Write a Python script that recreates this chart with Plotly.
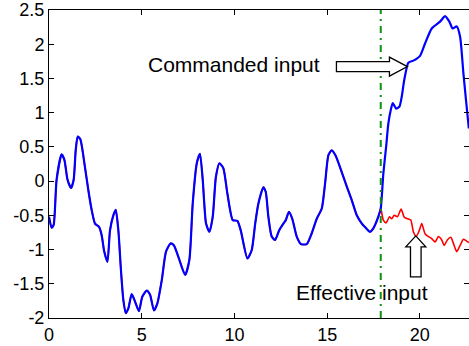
import numpy as np
import plotly.graph_objects as go

# Commanded input (blue), sampled along time
t_cmd = [0.00, 0.14, 0.25, 0.41, 0.68, 0.83, 1.00, 1.19, 1.33, 1.44, 1.55, 1.69,
         1.91, 2.12, 2.30, 2.48, 2.70, 2.84, 2.98, 3.15, 3.29, 3.47, 3.60, 3.74,
         3.88, 4.01, 4.14, 4.28, 4.46, 4.64, 4.85, 5.03, 5.27, 5.45, 5.66, 5.84,
         6.08, 6.31, 6.56, 6.74, 6.98, 7.34, 7.57, 7.75, 7.97, 8.14, 8.29, 8.47,
         8.65, 8.83, 9.00, 9.19, 9.40, 9.62, 9.91, 10.16, 10.34, 10.70, 10.93,
         11.12, 11.29, 11.56, 11.69, 11.83, 12.01, 12.19, 12.41, 12.64, 12.77,
         12.94, 13.12, 13.36, 13.59, 13.90, 14.13, 14.44, 14.71, 14.89, 15.07,
         15.25, 15.46, 15.75, 16.06, 16.33, 16.60, 16.87, 17.04, 17.31, 17.49,
         17.76, 17.89, 18.03, 18.18, 18.30, 18.43, 18.54, 18.72, 18.90, 19.02,
         19.16, 19.38, 19.65, 20.01, 20.28, 20.64, 21.09, 21.36, 21.59, 21.77,
         21.99, 22.17, 22.35, 22.49, 22.64]
u_cmd = [-0.52, -0.68, -0.64, 0.02, 0.39, 0.31, 0.02, -0.10, 0.02, 0.45, 0.65, 0.61,
         0.26, -0.13, -0.42, -0.62, -0.67, -0.79, -1.03, -1.18, -0.72, -0.50, -0.42, -0.72,
         -1.30, -1.74, -1.93, -1.86, -1.65, -1.76, -1.90, -1.69, -1.60, -1.66, -1.89, -1.79,
         -1.45, -1.03, -0.91, -0.94, -1.11, -1.37, -1.15, -0.33, 0.26, 0.40, 0.02, -0.62,
         -0.74, -0.52, 0.06, 0.26, 0.19, -0.18, -0.57, -0.58, -0.72, -1.13, -1.01,
         -0.62, -0.33, -0.09, -0.16, -0.52, -0.81, -0.86, -0.72, -0.62, -0.57,
         -0.45, -0.55, -0.81, -0.92, -0.92, -0.79, -0.55, -0.40, -0.03, 0.38,
         0.45, 0.37, 0.16, -0.08, -0.28, -0.50, -0.62, -0.67, -0.74, -0.69,
         -0.52, -0.40, 0.11, 0.50, 0.84, 1.04, 1.14, 1.06, 1.09, 1.23,
         1.48, 1.73, 1.76, 1.83, 2.01, 2.23, 2.33, 2.41, 2.33, 2.23,
         2.26, 2.11, 1.57, 1.18, 0.77]

# Saturation switches on here; effective input departs from the command
t_switch = 17.89

# Effective input (red) after the switch
t_eff_tail = [18.03, 18.18, 18.36, 18.48, 18.62, 18.79, 18.99, 19.16, 19.35, 19.51,
              19.65, 19.80, 19.97, 20.10, 20.28, 20.46, 20.64, 20.82, 21.00, 21.18,
              21.31, 21.48, 21.67, 21.81, 21.99, 22.17, 22.35, 22.49, 22.64]
u_eff_tail = [-0.57, -0.61, -0.52, -0.55, -0.50, -0.52, -0.41, -0.53, -0.55, -0.57,
              -0.74, -0.81, -0.72, -0.62, -0.77, -0.81, -0.84, -0.89, -0.81, -0.86,
              -0.94, -0.86, -0.82, -0.91, -1.03, -0.94, -0.85, -0.87, -0.90]

x_ticks = [0, 5, 10, 15, 20]
y_ticks = [-2, -1.5, -1, -0.5, 0, 0.5, 1, 1.5, 2, 2.5]
y_tick_text = ["-2", "-1.5", "-1", "-0.5", "0", "0.5", "1", "1.5", "2", "2.5"]

t_cmd_a = np.array(t_cmd)
u_cmd_a = np.array(u_cmd)
before = t_cmd_a <= t_switch
t_eff = np.concatenate([t_cmd_a[before], t_eff_tail])
u_eff = np.concatenate([u_cmd_a[before], u_eff_tail])

W, H = 469, 346
M = dict(l=49, r=0, t=10, b=28)
x_range = [0, 22.65]
y_range = [-2, 2.5]
px_per_x = (W - M["l"] - M["r"]) / (x_range[1] - x_range[0])
px_per_y = (H - M["t"] - M["b"]) / (y_range[1] - y_range[0])

fig = go.Figure()
fig.add_trace(go.Scatter(x=t_eff, y=u_eff, mode="lines",
                         line=dict(color="#ff0000", width=1.6, shape="spline", smoothing=0.6),
                         name="Effective input", showlegend=False, hoverinfo="skip"))
fig.add_trace(go.Scatter(x=t_cmd_a, y=u_cmd_a, mode="lines",
                         line=dict(color="#0000ff", width=2.2, shape="spline", smoothing=0.6),
                         name="Commanded input", showlegend=False, hoverinfo="skip"))

# switch instant
fig.add_shape(type="line", x0=t_switch, x1=t_switch, y0=y_range[0], y1=y_range[1],
              xref="x", yref="y", line=dict(color="#109010", width=2, dash="7px,5px,2px,5px"))


def block_arrow(tip_x, tip_y, direction, shaft_len, shaft_half, head_len, head_half):
    """Hollow block arrow; lengths in pixels, converted to data units."""
    pts = [(0, 0), (-head_len, head_half), (-head_len, shaft_half), (-shaft_len, shaft_half),
           (-shaft_len, -shaft_half), (-head_len, -shaft_half), (-head_len, -head_half)]
    coords = []
    for a, b in pts:
        if direction == "right":
            dx, dy = a, b
        else:  # "up": arrow points to +y, body below the tip
            dx, dy = b, a
        coords.append((tip_x + dx / px_per_x, tip_y + dy / px_per_y))
    path = "M " + " L ".join(f"{x:.4f},{y:.4f}" for x, y in coords) + " Z"
    fig.add_shape(type="path", path=path, xref="x", yref="y",
                  fillcolor="white", line=dict(color="black", width=1.3))


tip_cmd_t = 19.33
block_arrow(tip_cmd_t, float(np.interp(tip_cmd_t, t_cmd_a, u_cmd_a)), "right",
            shaft_len=71, shaft_half=5, head_len=18, head_half=9.5)
tip_eff_t = 19.78
block_arrow(tip_eff_t, float(np.interp(tip_eff_t, t_eff, u_eff)), "up",
            shaft_len=41, shaft_half=5.3, head_len=11, head_half=10)

label_font = dict(family="Liberation Sans, Arial, sans-serif", size=21, color="black")
fig.add_annotation(x=14.72, y=1.70, xref="x", yref="y", text="Commanded input",
                   showarrow=False, xanchor="right", yanchor="middle", font=label_font)
fig.add_annotation(x=16.88, y=-1.63, xref="x", yref="y", text="Effective input",
                   showarrow=False, xanchor="center", yanchor="middle", font=label_font)

axis_common = dict(showline=True, linecolor="black", linewidth=1, mirror="ticks",
                   ticks="inside", ticklen=5, tickcolor="black", showgrid=False,
                   zeroline=False,
                   tickfont=dict(family="Liberation Sans, Arial, sans-serif", size=18,
                                 color="black"))
fig.update_xaxes(range=x_range, tickvals=x_ticks, **axis_common)
fig.update_yaxes(range=y_range, tickvals=y_ticks, ticktext=y_tick_text, **axis_common)

fig.update_layout(width=W, height=H, margin=M, plot_bgcolor="white",
                  paper_bgcolor="white", showlegend=False)

fig.write_html("out.html")
